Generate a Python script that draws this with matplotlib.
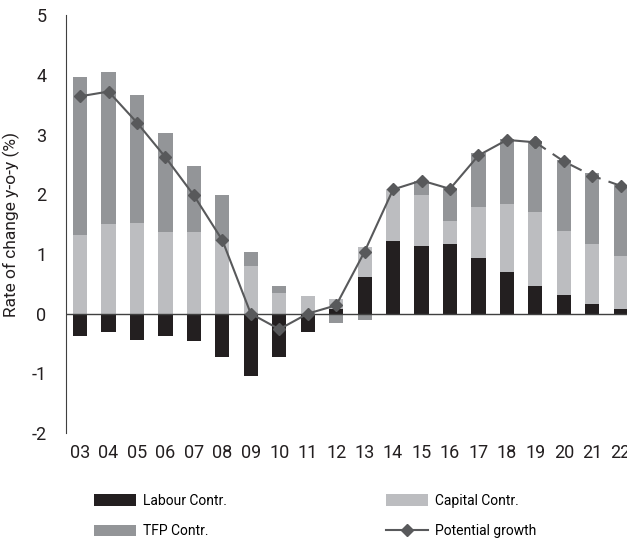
import matplotlib.pyplot as plt
import numpy as np

plt.rcParams['font.family'] = ['Roboto', 'DejaVu Sans']
plt.rcParams['axes.unicode_minus'] = False

years = ['03', '04', '05', '06', '07', '08', '09', '10', '11', '12',
         '13', '14', '15', '16', '17', '18', '19', '20', '21', '22']
labour = [-0.38, -0.31, -0.44, -0.38, -0.46, -0.73, -1.05, -0.73, -0.31, 0.07,
          0.62, 1.21, 1.14, 1.17, 0.94, 0.69, 0.47, 0.32, 0.17, 0.07]
capital = [1.32, 1.51, 1.52, 1.36, 1.36, 1.21, 0.79, 0.35, 0.30, 0.18,
           0.50, 0.87, 0.84, 0.39, 0.85, 1.14, 1.24, 1.07, 0.99, 0.90]
tfp = [2.65, 2.53, 2.15, 1.66, 1.12, 0.77, 0.25, 0.12, 0.0, -0.15,
       -0.10, 0.0, 0.25, 0.55, 0.90, 1.10, 1.18, 1.19, 1.19, 1.19]
potential = [3.64, 3.72, 3.20, 2.62, 1.98, 1.23, 0.0, -0.26, 0.0, 0.14,
             1.04, 2.08, 2.23, 2.09, 2.65, 2.91, 2.87, 2.55, 2.31, 2.14]

c_lab = '#231f20'
c_cap = '#bcbdc0'
c_tfp = '#939598'
c_line = '#58595b'

x = np.arange(len(years))
labour = np.array(labour)
capital = np.array(capital)
tfp = np.array(tfp)

# stack positives upward and negatives downward
pos_base = np.where(labour > 0, labour, 0.0)
neg_base = np.where(labour < 0, labour, 0.0)
cap_bottom = np.where(capital >= 0, pos_base, neg_base)
pos_base2 = pos_base + np.where(capital > 0, capital, 0.0)
neg_base2 = neg_base + np.where(capital < 0, capital, 0.0)
tfp_bottom = np.where(tfp >= 0, pos_base2, neg_base2)

fig = plt.figure(figsize=(6.27, 5.4), dpi=100)
ax = fig.add_axes([0.105, 0.198, 0.895, 0.774])

w = 0.5
b1 = ax.bar(x, labour, w, color=c_lab, label='Labour Contr.')
b2 = ax.bar(x, capital, w, bottom=cap_bottom, color=c_cap, label='Capital Contr.')
b3 = ax.bar(x, tfp, w, bottom=tfp_bottom, color=c_tfp, label='TFP Contr.')

ax.axhline(0, color='#404040', lw=1)

split = 16
l1, = ax.plot(x[:split + 1], potential[:split + 1], color=c_line, lw=1.5,
              marker='D', markersize=6, label='Potential growth')
ax.plot(x[split:], potential[split:], color=c_line, lw=1.5, ls=(0, (6, 4)),
        marker='D', markersize=6)

ax.set_ylim(-2, 5)
ax.set_xlim(-0.5, 19.22)
ax.set_yticks(range(-2, 6))
ax.set_xticks(x)
ax.set_xticklabels(years)
ax.tick_params(axis='both', length=0, labelsize=13, colors='#231f20')
ax.tick_params(axis='y', pad=14)
ax.tick_params(axis='x', pad=8)
ax.set_ylabel('Rate of change y-o-y (%)', fontsize=12.5, color='#231f20',
              labelpad=8)
for s in ['top', 'right', 'bottom']:
    ax.spines[s].set_visible(False)
ax.spines['left'].set_color('#404040')

fig.legend(handles=[b1, b3, b2, l1], ncol=2, loc='lower left',
           bbox_to_anchor=(0.13, -0.02), frameon=False, fontsize=10,
           handlelength=3.0, handleheight=0.9, columnspacing=11.5,
           labelspacing=1.2, handletextpad=0.5)

fig.savefig('out.png', dpi=100)
